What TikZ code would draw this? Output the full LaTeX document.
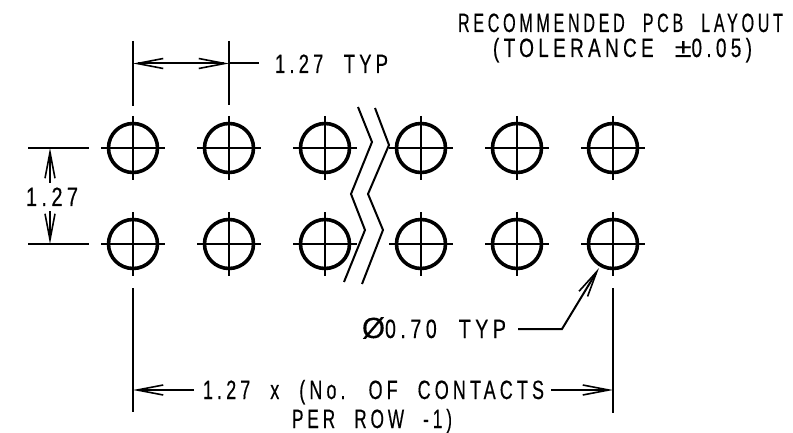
\documentclass[tikz,border=0pt]{standalone}
\usepackage{fontspec}
\usepackage{graphicx}
\usetikzlibrary{arrows.meta}
\newfontfamily\dwgfont[FakeStretch=0.66,LetterSpace=15,WordSpace=2.2,FakeBold=0.3]{Liberation Sans}
\newsavebox{\fitbox}
\newcommand{\fitw}[2]{\sbox{\fitbox}{#2}\pgfmathsetmacro{\fitratio}{#1/(\wd\fitbox/1pt)}\scalebox{\fitratio}[1]{\usebox{\fitbox}}}
\tikzset{
  x=1pt,y=-1pt,
  thin line/.style={line width=2pt,line join=miter,black},
  pad/.style={circle,draw=black,line width=3.6pt,minimum size=49pt,inner sep=0pt,outer sep=0pt},
  dim/.style={thin line,-{Straight Barb[length=26pt,width=10pt,line width=1.6pt]}},
  label/.style={anchor=base west,inner sep=0pt,outer sep=0pt,font=\fontsize{26.5pt}{26.5pt}\selectfont\dwgfont,text=black},
}
\begin{document}
\begin{tikzpicture}
\useasboundingbox (0,0) rectangle (793,433);
% pads
\foreach \n/\px in {a/133,b/229,c/325,d/421,e/517,f/613}{
  \foreach \r/\py in {1/148,2/244}{
    \node[pad] (\n\r) at (\px,\py) {};
    \draw[thin line] ([xshift=-32pt]\n\r.center) -- ([xshift=32pt]\n\r.center);
    \draw[thin line] ([yshift=32pt]\n\r.center) -- ([yshift=-32pt]\n\r.center);
  }
}
% break lines
\draw[thin line] (358,107) -- (372,142) -- (351,194) -- (365,230) -- (344,282);
\draw[thin line] (375,108) -- (389,145) -- (368,194) -- (383,230) -- (362,284);
% top dimension
\coordinate (t1a) at (133,41); \coordinate (t1b) at (133,106);
\coordinate (t2a) at (229,41); \coordinate (t2b) at (229,105);
\coordinate (tl) at (133,63.5); \coordinate (tr) at (229,63.5); \coordinate (te) at (259,63.5);
\draw[thin line] (t1a) -- (t1b);
\draw[thin line] (t2a) -- (t2b);
\draw[dim,{Straight Barb[length=26pt,width=10pt,line width=1.6pt]}-{Straight Barb[length=26pt,width=10pt,line width=1.6pt]}] (tl) -- (tr);
\draw[thin line] (tr) -- (te);
\node[label] (toptext) at (275,73) {\fitw{113}{1.27 TYP}};
% left dimension
\coordinate (l1a) at (28,148); \coordinate (l1b) at (89,148);
\coordinate (l2a) at (28,244); \coordinate (l2b) at (89,244);
\coordinate (lu) at (50,148); \coordinate (lum) at (50,183);
\coordinate (ld) at (50,244); \coordinate (ldm) at (50,211);
\draw[thin line] (l1a) -- (l1b);
\draw[thin line] (l2a) -- (l2b);
\draw[dim] (lum) -- (lu);
\draw[dim] (ldm) -- (ld);
\node[label] (lefttext) at (26,206) {\fitw{52}{1.27}};
% title
\node[label] (title1) at (458,32) {\fitw{325}{RECOMMENDED PCB LAYOUT}};
\node[label] (title2) at (493,57) {\fitw{259}{(TOLERANCE \scalebox{1.6}[1]{±}0.05)}};
% leader
\node[label] (dia) at (362,338) {\fitw{144}{\scalebox{1.5}[1.1]{Ø}0.70 TYP}};
\coordinate (ls) at (518,329); \coordinate (lk) at (562,329); \coordinate (lt) at (599,268);
\draw[dim] (ls) -- (lk) -- (lt);
% bottom dimension
\coordinate (b1a) at (133,288); \coordinate (b1b) at (133,412);
\coordinate (b2a) at (613,288); \coordinate (b2b) at (613,413);
\coordinate (bl) at (133,390); \coordinate (blm) at (194,390);
\coordinate (br) at (613,390); \coordinate (brm) at (551,390);
\draw[thin line] (b1a) -- (b1b);
\draw[thin line] (b2a) -- (b2b);
\draw[dim] (blm) -- (bl);
\draw[dim] (brm) -- (br);
\node[label] (bot1) at (203,399) {\fitw{341}{1.27 x (No. OF CONTACTS}};
\node[label] (bot2) at (292,428) {\fitw{160}{PER ROW -1)}};
\end{tikzpicture}
\end{document}
